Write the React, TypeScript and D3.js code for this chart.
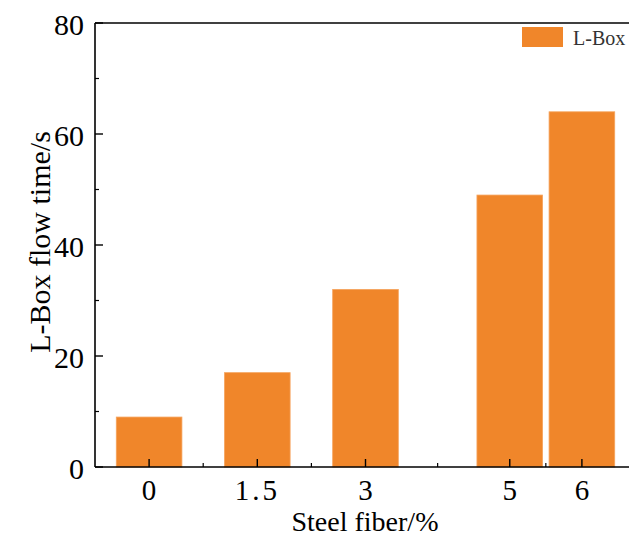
import React from "react";
import * as d3 from "d3";

const categories: number[] = [0, 1.5, 3, 5, 6];
const tickLabels: string[] = ["0", "1.5", "3", "5", "6"];
const values: number[] = [9, 17, 32, 49, 64];
const minorXTicks: number[] = [0.75, 2.25, 4, 5.5];
const yTicks: number[] = [0, 20, 40, 60, 80];
const yMinorTicks: number[] = [10, 30, 50, 70];
const seriesName = "L-Box";

const W = 629;
const H = 538;
const left = 95;
const top = 23;
const bottom = 467;
const right = 636;
const barColor = "#F0862A";
const font = "'Liberation Serif', 'Times New Roman', serif";

export default function App() {
  const x = d3.scaleLinear().domain([-0.75, 6.75]).range([left, right]);
  const y = d3.scaleLinear().domain([0, 80]).range([bottom, top]);
  const barW = x(0.91) - x(0);

  return (
    <svg
      width={W}
      height={H}
      style={{ position: "absolute", left: 0, top: 0, background: "#fff" }}
    >
      {categories.map((c, i) => (
        <rect
          key={i}
          x={x(c) - barW / 2}
          y={y(values[i])}
          width={barW}
          height={y(0) - y(values[i])}
          fill={barColor}
          stroke="#F5A45E"
          strokeWidth={0.8}
        />
      ))}

      {/* axes frame */}
      <line x1={left} y1={top} x2={W} y2={top} stroke="#000" strokeWidth={1.6} />
      <line x1={left} y1={top} x2={left} y2={bottom} stroke="#000" strokeWidth={1.6} />
      <line x1={left} y1={bottom} x2={W} y2={bottom} stroke="#000" strokeWidth={1.6} />

      {/* x ticks */}
      {categories.map((c, i) => (
        <g key={"xt" + i}>
          <line x1={x(c)} x2={x(c)} y1={bottom} y2={bottom - 8} stroke="#000" strokeWidth={1.4} />
          <text
            x={x(c)}
            y={500}
            textAnchor="middle"
            fontFamily={font}
            fontSize={29}
            letterSpacing={tickLabels[i].includes(".") ? 3 : 0}
            fill="#000"
          >
            {tickLabels[i]}
          </text>
        </g>
      ))}
      {minorXTicks.map((c, i) => (
        <line key={"xm" + i} x1={x(c)} x2={x(c)} y1={bottom} y2={bottom - 4} stroke="#000" strokeWidth={1.2} />
      ))}

      {/* y ticks */}
      {yTicks.map((v, i) => (
        <g key={"yt" + i}>
          <line x1={left} x2={left + 8} y1={y(v)} y2={y(v)} stroke="#000" strokeWidth={1.4} />
          <text
            x={84}
            y={y(v) + 12}
            textAnchor="end"
            fontFamily={font}
            fontSize={30}
            fill="#000"
          >
            {v}
          </text>
        </g>
      ))}
      {yMinorTicks.map((v, i) => (
        <line key={"ym" + i} x1={left} x2={left + 4} y1={y(v)} y2={y(v)} stroke="#000" strokeWidth={1.2} />
      ))}

      {/* axis titles */}
      <text
        x={365}
        y={531}
        textAnchor="middle"
        fontFamily={font}
        fontSize={28}
        fill="#000"
      >
        Steel fiber/%
      </text>
      <text
        transform={`translate(50, 242) rotate(-90)`}
        textAnchor="middle"
        fontFamily={font}
        fontSize={30}
        fill="#000"
      >
        L-Box flow time/s
      </text>

      {/* legend */}
      <rect x={522} y={27} width={41} height={20} fill={barColor} />
      <text x={573} y={45} fontFamily={font} fontSize={20} fill="#333">
        {seriesName}
      </text>
    </svg>
  );
}
